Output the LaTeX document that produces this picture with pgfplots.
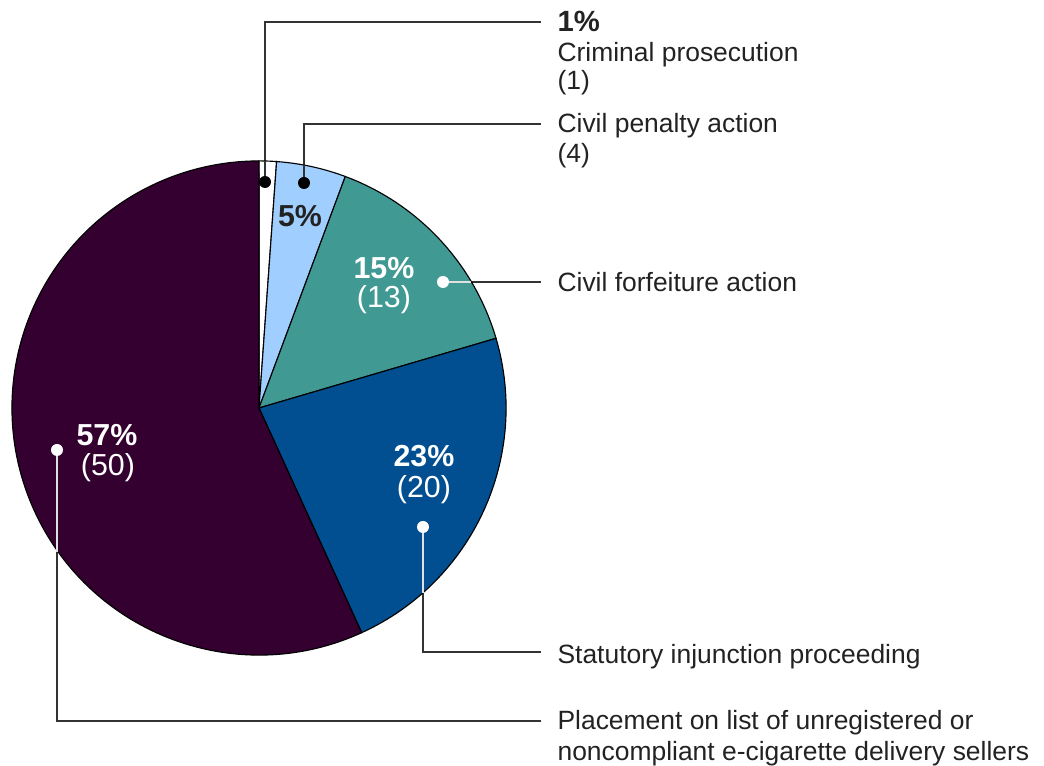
\documentclass[border=0pt]{standalone}
\usepackage{pgfplots}
\usepackage{pgfplotstable}
\pgfplotsset{compat=1.18}
\usepackage{fontspec}
\setmainfont{Liberation Sans}

\definecolor{cCrim}{HTML}{FFFFFF}
\definecolor{cPen}{HTML}{A0CFFF}
\definecolor{cForf}{HTML}{409A93}
\definecolor{cInj}{HTML}{014E91}
\definecolor{cPlace}{HTML}{330030}
\definecolor{txt}{HTML}{222222}
\definecolor{lead}{HTML}{333333}

% enforcement actions by type (count)
\pgfplotstableread{
idx value
0 1
1 4
2 13
3 20
4 50
}\pietable

\newcommand\getv[2]{\pgfplotstablegetelem{#1}{value}\of\pietable\let#2\pgfplotsretval}
\def\R{3.0875cm}
\newcommand\slice[3]{\filldraw[fill=#1, draw=black, line width=0.4pt]
  (axis cs:259,358) -- ++(#2:\R) arc[start angle=#2, end angle=#3, radius=\R] -- cycle;}
\newcommand\leaddot[2]{\fill[#1] (axis cs:#2) circle[radius=0.075cm];}
\newcommand\inbig{\fontsize{10.8pt}{13pt}\selectfont}

\begin{document}
\begin{tikzpicture}
\getv{0}\vA
\getv{1}\vB
\getv{2}\vC
\getv{3}\vD
\getv{4}\vE
\pgfmathsetmacro\tot{\vA+\vB+\vC+\vD+\vE}
\pgfmathsetmacro\aA{90}
\pgfmathsetmacro\aB{\aA-360*(\vA/\tot)}
\pgfmathsetmacro\aC{\aB-360*(\vB/\tot)}
\pgfmathsetmacro\aD{\aC-360*(\vC/\tot)}
\pgfmathsetmacro\aE{\aD-360*(\vD/\tot)}
\pgfmathsetmacro\aF{\aE-360*(\vE/\tot)}
\begin{axis}[
  x=0.0125cm, y=0.0125cm,
  xmin=0, xmax=1044, ymin=0, ymax=766,
  hide axis, clip=false,
]
% leader lines (outer parts)
\draw[lead, line width=0.55pt] (axis cs:265,584) |- (axis cs:541,744);
\draw[lead, line width=0.55pt] (axis cs:304,583) |- (axis cs:541,642);
\draw[lead, line width=0.55pt] (axis cs:443,484) -- (axis cs:541,484);
\draw[lead, line width=0.55pt] (axis cs:423,239) |- (axis cs:541,114);
\draw[lead, line width=0.55pt] (axis cs:57,316) |- (axis cs:541,45);
% slices
\slice{cCrim}{\aA}{\aB}
\slice{cPen}{\aB}{\aC}
\slice{cForf}{\aC}{\aD}
\slice{cInj}{\aD}{\aE}
\slice{cPlace}{\aE}{\aF}
% leader lines inside the pie
\draw[lead, line width=0.55pt] (axis cs:265,584) -- (axis cs:265,605);
\draw[lead, line width=0.55pt] (axis cs:304,583) -- (axis cs:304,601);
\draw[white!88!black, line width=0.55pt] (axis cs:443,484) -- (axis cs:471.4,484);
\draw[white!88!black, line width=0.55pt] (axis cs:423,239) -- (axis cs:423,173.3);
\draw[white!88!black, line width=0.55pt] (axis cs:57,316) -- (axis cs:57,214.4);
% dots
\leaddot{black}{265,584}
\leaddot{black}{304,583}
\leaddot{white}{443,484}
\leaddot{white}{423,239}
\leaddot{white}{57,316}
% outside labels
\begin{scope}[every node/.style={anchor=base west, inner sep=0pt, text=txt, font=\fontsize{9.4pt}{11pt}\selectfont}]
\node[font=\fontsize{10.4pt}{12pt}\selectfont\bfseries] at (axis cs:557,734) {1\%};
\node at (axis cs:557,704) {Criminal prosecution};
\node at (axis cs:557,676) {(1)};
\node at (axis cs:557,633) {Civil penalty action};
\node at (axis cs:557,603) {(4)};
\node at (axis cs:557,474) {Civil forfeiture action};
\node at (axis cs:557,102) {Statutory injunction proceeding};
\node at (axis cs:557,36) {Placement on list of unregistered or};
\node at (axis cs:557,5) {noncompliant e-cigarette delivery sellers};
\end{scope}
% inside labels
\begin{scope}[every node/.style={anchor=base, inner sep=0pt, text=white, font=\inbig}]
\node[text=txt, font=\inbig\bfseries] at (axis cs:300,539) {5\%};
\node[font=\inbig\bfseries] at (axis cs:384,487) {15\%};
\node at (axis cs:384,458) {(13)};
\node[font=\inbig\bfseries] at (axis cs:424,299) {23\%};
\node at (axis cs:424,268) {(20)};
\node[font=\inbig\bfseries] at (axis cs:107,320) {57\%};
\node at (axis cs:108,290) {(50)};
\end{scope}
\end{axis}
\pgfresetboundingbox
\path (current axis.south west) rectangle (current axis.north east);
\end{tikzpicture}
\end{document}
